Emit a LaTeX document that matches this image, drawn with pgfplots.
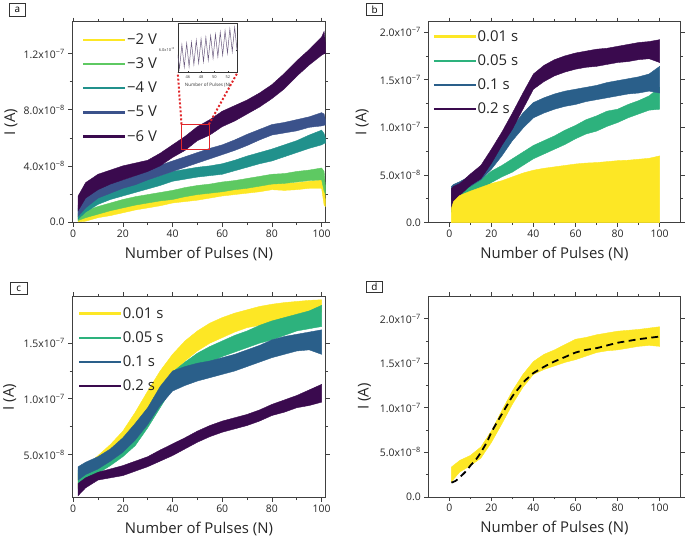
\documentclass[border=0pt]{standalone}
\usepackage{fontspec}
\setmainfont{Open Sans}
\usepackage{pgfplots}
\pgfplotsset{compat=1.18}
\usepgfplotslibrary{fillbetween}
\definecolor{vyel}{HTML}{FDE725}
\definecolor{vgrA}{HTML}{5EC962}
\definecolor{vteal}{HTML}{21918C}
\definecolor{vnavy}{HTML}{3B528B}
\definecolor{vpur}{HTML}{3A0A4E}
\definecolor{vgr}{HTML}{2DB27D}
\definecolor{vblue}{HTML}{2A5F8A}
\definecolor{axgray}{HTML}{404040}
\definecolor{redbox}{HTML}{E0262A}
\definecolor{insetline}{HTML}{6A5A7E}

\newcommand{\band}[4]{%
  \addplot[draw=none, name path=#1U, forget plot] coordinates {#3};
  \addplot[draw=none, name path=#1L, forget plot] coordinates {#4};
  \addplot[fill=#2, draw=#2, line width=0.4pt, forget plot] fill between[of=#1U and #1L];
}

\pgfplotsset{
  panel/.style={
    scale only axis,
    axis line style={axgray, line width=0.8pt},
    tick style={axgray, line width=0.7pt},
    tick align=outside,
    major tick length=4pt,
    minor tick length=2.5pt,
    minor tick num=1,
    xtick={0,20,40,60,80,100},
    /pgf/number format/assume math mode=true,
    tick label style={font=\fontsize{10.5}{12}\selectfont, text=black!85},
    xlabel={Number of Pulses (N)},
    ylabel={I (A)},
    every axis x label/.style={at={(axis description cs:0.5,-0.157)}, anchor=center, font=\fontsize{15}{17}\selectfont, text=black!85},
    legend style={draw=none, fill=none, font=\fontsize{15}{17}\selectfont, row sep=10pt, inner xsep=0pt, inner ysep=0pt, nodes={inner sep=1pt, text=black!85}},
    legend image code/.code={\draw[##1] (0pt,0pt) -- (42pt,0pt);},
    legend cell align=left,
  },
  ylab/.style={every axis y label/.style={at={(axis description cs:#1,0.5)}, rotate=90, anchor=center, font=\fontsize{15}{17}\selectfont, text=black!85}},
}

\begin{document}
\begin{tikzpicture}
\path (0pt,0pt) rectangle (685pt,541pt);

% ---------- panel a ----------
\begin{axis}[panel, ylab=-0.242,
  at={(71.7pt,317pt)}, anchor=south west, width=255pt, height=202.3pt,
  xmin=-0.4, xmax=101.6, ymin=-0.05, ymax=14.3,
  ytick={0,4,8,12},
  yticklabels={0.0, 4.0x10\textsuperscript{−8}, 8.0x10\textsuperscript{−8}, 1.2x10\textsuperscript{−7}},
  legend style={at={(axis description cs:0.039,0.945)}, anchor=north west},
]
\band{aY}{vyel}{(2,0.4) (5,0.5) (10,0.7) (15,0.95) (20,1.15) (25,1.35) (30,1.5) (35,1.65) (40,1.85) (45,1.95) (50,2.05) (55,2.15) (60,2.3) (65,2.4) (70,2.55) (75,2.65) (80,2.8) (85,2.75) (90,2.8) (95,2.9) (100,3.0) (101,2.9) (101.5,1.6)}
{(2,0.0) (5,0.05) (10,0.3) (15,0.45) (20,0.65) (25,0.85) (30,1.0) (35,1.15) (40,1.35) (45,1.45) (50,1.55) (55,1.7) (60,1.85) (65,1.95) (70,2.05) (75,2.15) (80,2.3) (85,2.25) (90,2.3) (95,2.4) (100,2.4) (101,1.2) (101.5,1.1)}
\band{aG}{vgrA}{(2,0.6) (5,0.8) (10,1.1) (15,1.35) (20,1.6) (25,1.8) (30,1.95) (35,2.1) (40,2.25) (45,2.45) (50,2.6) (55,2.7) (60,2.85) (65,2.95) (70,3.1) (75,3.25) (80,3.4) (85,3.45) (90,3.6) (95,3.7) (100,3.85) (101,3.6) (101.5,2.6)}
{(2,0.1) (5,0.3) (10,0.55) (15,0.8) (20,1.0) (25,1.2) (30,1.35) (35,1.5) (40,1.6) (45,1.8) (50,1.95) (55,2.05) (60,2.15) (65,2.3) (70,2.4) (75,2.55) (80,2.7) (85,2.75) (90,2.85) (95,2.95) (100,3.0) (101,2.2) (101.5,2.0)}
\band{aT}{vteal}{(2,1.0) (5,1.45) (10,1.95) (15,2.3) (20,2.55) (25,2.8) (30,3.05) (35,3.3) (40,3.6) (45,3.75) (50,3.9) (55,4.0) (60,4.15) (65,4.4) (70,4.7) (75,4.95) (80,5.2) (85,5.5) (90,5.8) (95,6.2) (100,6.55) (101,6.3) (101.5,6.0)}
{(2,0.2) (5,0.7) (10,1.25) (15,1.6) (20,1.85) (25,2.1) (30,2.35) (35,2.6) (40,2.9) (45,3.05) (50,3.2) (55,3.3) (60,3.4) (65,3.65) (70,3.9) (75,4.15) (80,4.35) (85,4.65) (90,4.95) (95,5.25) (100,5.5) (101,5.6) (101.5,5.6)}
\band{aN}{vnavy}{(2,1.2) (5,1.8) (10,2.4) (15,2.75) (20,3.0) (25,3.3) (30,3.7) (35,4.05) (40,4.35) (45,4.65) (50,4.95) (55,5.25) (60,5.5) (65,5.85) (70,6.25) (75,6.6) (80,6.95) (85,7.1) (90,7.3) (95,7.5) (100,7.8) (101,7.7) (101.5,7.3)}
{(2,0.4) (5,1.0) (10,1.7) (15,2.05) (20,2.4) (25,2.65) (30,3.0) (35,3.3) (40,3.6) (45,3.9) (50,4.2) (55,4.5) (60,4.8) (65,5.1) (70,5.45) (75,5.85) (80,6.2) (85,6.35) (90,6.5) (95,6.75) (100,6.85) (101,6.9) (101.5,6.9)}
\band{aP}{vpur}{(2,1.85) (5,2.8) (10,3.4) (15,3.7) (20,4.0) (25,4.2) (30,4.4) (35,4.9) (40,5.5) (45,6.1) (50,6.8) (55,7.3) (60,7.9) (65,8.3) (70,8.7) (75,9.2) (80,9.8) (85,10.6) (90,11.5) (95,12.3) (100,13.2) (101,13.6) (101.5,12.8)}
{(2,0.8) (5,1.7) (10,2.3) (15,2.7) (20,3.0) (25,3.3) (30,3.6) (35,4.0) (40,4.6) (45,5.1) (50,5.8) (55,6.2) (60,6.8) (65,7.2) (70,7.7) (75,8.2) (80,8.8) (85,9.5) (90,10.4) (95,11.2) (100,11.9) (101,12.0) (101.5,12.0)}
\addlegendimage{line width=2.2pt, vyel}\addlegendentry{−2 V}
\addlegendimage{line width=2.2pt, vgrA}\addlegendentry{−3 V}
\addlegendimage{line width=2.2pt, vteal}\addlegendentry{−4 V}
\addlegendimage{line width=2.2pt, vnavy}\addlegendentry{−5 V}
\addlegendimage{line width=2.2pt, vpur}\addlegendentry{−6 V}
\draw[redbox, line width=0.7pt] (axis cs:43.6,5.19) rectangle (axis cs:54.65,6.97);
\draw[redbox, line width=2pt, dash pattern=on 2pt off 2pt] (axis cs:43.6,6.97) -- (axis cs:42.1,10.65);
\draw[redbox, line width=2pt, dash pattern=on 2pt off 2pt] (axis cs:54.65,6.97) -- (axis cs:66.1,10.65);
\end{axis}

% inset
\begin{axis}[
  at={(178pt,468pt)}, anchor=south west, width=60pt, height=50pt, scale only axis,
  xmin=44.5, xmax=53.45, ymin=5.54, ymax=6.54,
  axis line style={black!80, line width=0.4pt},
  tick style={black!80, line width=0.3pt},
  major tick length=1.5pt, tick align=inside,
  xtick={46,48,50,52}, ytick={6.0},
  yticklabels={6.0x10\textsuperscript{−8}},
  /pgf/number format/assume math mode=true,
  tick label style={font=\fontsize{4}{5}\selectfont, text=black!80},
  xticklabel style={yshift=0.5pt},
  yticklabel style={xshift=0.5pt},
  xlabel={Number of Pulses (N)},
  every axis x label/.style={at={(axis description cs:0.5,-0.26)}, anchor=center, font=\fontsize{4.6}{5}\selectfont, text=black!80},
  axis background/.style={fill=white},
]
\addplot[insetline, line width=0.5pt] coordinates {(44.5,5.9) (44.75,5.62) (45.11,6.10) (45.47,5.65) (45.83,6.13) (46.19,5.66) (46.55,6.15) (46.91,5.70) (47.27,6.19) (47.63,5.73) (47.99,6.22) (48.35,5.76) (48.71,6.25) (49.07,5.79) (49.43,6.28) (49.79,5.83) (50.15,6.31) (50.51,5.86) (50.87,6.35) (51.23,5.89) (51.59,6.38) (51.95,5.93) (52.31,6.42) (52.67,5.96) (53.03,6.45) (53.39,5.99) (53.45,6.02)};
\node[font=\fontsize{4}{5}\selectfont, text=black!80, anchor=center] at (axis description cs:-0.18,0.84) {I (A)};
\end{axis}

% ---------- panel b ----------
\begin{axis}[panel, ylab=-0.262,
  at={(430pt,317pt)}, anchor=south west, width=254pt, height=202.3pt,
  xmin=-10, xmax=110, ymin=0, ymax=21.1,
  ytick={0,5,10,15,20},
  yticklabels={0.0, 5.0x10\textsuperscript{−8}, 1.0x10\textsuperscript{−7}, 1.5x10\textsuperscript{−7}, 2.0x10\textsuperscript{−7}},
  legend style={at={(axis description cs:0.017,0.962)}, anchor=north west},
]
\addplot[fill=vyel, draw=vyel, line width=0.4pt, forget plot] coordinates {(1,1.5) (2,2.2) (5,2.85) (10,3.3) (15,3.7) (20,4.1) (25,4.4) (30,4.8) (35,5.2) (40,5.5) (45,5.7) (50,5.85) (55,6.0) (60,6.15) (65,6.25) (70,6.3) (75,6.4) (80,6.5) (85,6.55) (90,6.65) (95,6.75) (100,7.0)} \closedcycle;
\band{bG}{vgr}{(1,2.5) (2,2.8) (5,3.2) (10,3.9) (15,4.5) (20,5.4) (25,6.0) (30,6.7) (35,7.4) (40,8.1) (45,8.6) (50,9.1) (55,9.7) (60,10.2) (65,10.8) (70,11.2) (75,11.7) (80,11.9) (85,12.4) (90,12.8) (95,13.3) (100,14.2)}
{(1,1.1) (2,1.4) (5,2.0) (10,2.8) (15,3.4) (20,4.2) (25,4.8) (30,5.3) (35,6.0) (40,6.7) (45,7.2) (50,7.7) (55,8.2) (60,8.8) (65,9.3) (70,9.6) (75,10.1) (80,10.5) (85,11.0) (90,11.4) (95,11.8) (100,11.9)}
\band{bB}{vblue}{(1,3.8) (2,4.0) (5,4.3) (10,4.9) (15,5.6) (20,6.8) (25,8.3) (30,10.0) (35,11.5) (40,12.6) (45,13.1) (50,13.5) (55,13.8) (60,14.0) (65,14.2) (70,14.4) (75,14.7) (80,14.9) (85,15.1) (90,15.3) (95,15.6) (100,16.4)}
{(1,2.4) (2,2.8) (5,3.2) (10,3.8) (15,4.5) (20,5.6) (25,7.0) (30,8.6) (35,9.9) (40,11.0) (45,11.5) (50,11.9) (55,12.2) (60,12.4) (65,12.7) (70,12.9) (75,13.1) (80,13.3) (85,13.5) (90,13.6) (95,13.8) (100,13.6)}
\band{bP}{vpur}{(1,3.55) (2,3.8) (5,4.1) (10,5.1) (15,6.0) (20,7.7) (25,9.5) (30,11.5) (35,13.6) (40,15.6) (45,16.5) (50,17.1) (55,17.5) (60,17.8) (65,18.0) (70,18.2) (75,18.3) (80,18.5) (85,18.7) (90,18.9) (95,19.0) (100,19.2)}
{(1,1.4) (2,2.0) (5,2.85) (10,3.9) (15,4.6) (20,6.2) (25,8.1) (30,9.8) (35,11.9) (40,14.0) (45,14.8) (50,15.4) (55,15.8) (60,16.1) (65,16.3) (70,16.4) (75,16.6) (80,16.8) (85,16.9) (90,17.1) (95,17.2) (100,16.8)}
\addlegendimage{line width=2.2pt, vyel}\addlegendentry{0.01 s}
\addlegendimage{line width=2.2pt, vgr}\addlegendentry{0.05 s}
\addlegendimage{line width=2.2pt, vblue}\addlegendentry{0.1 s}
\addlegendimage{line width=2.2pt, vpur}\addlegendentry{0.2 s}
\end{axis}

% ---------- panel c ----------
\begin{axis}[panel, ylab=-0.246,
  at={(71.7pt,40.3pt)}, anchor=south west, width=255pt, height=202.4pt,
  xmin=-0.4, xmax=101.6, ymin=1.125, ymax=19.2,
  ytick={5,10,15},
  yticklabels={5.0x10\textsuperscript{−8}, 1.0x10\textsuperscript{−7}, 1.5x10\textsuperscript{−7}},
  legend style={at={(axis description cs:0.022,0.952)}, anchor=north west},
]
\band{cY}{vyel}{(2,3.3) (5,3.9) (10,4.9) (15,5.9) (20,7.1) (25,8.8) (30,10.7) (35,12.5) (40,14.0) (45,15.2) (50,16.1) (55,16.8) (60,17.3) (65,17.7) (70,18.0) (75,18.3) (80,18.5) (85,18.65) (90,18.75) (95,18.85) (100,18.9)}
{(2,2.0) (5,2.7) (10,3.6) (15,4.5) (20,5.5) (25,6.9) (30,8.9) (35,10.6) (40,12.2) (45,13.4) (50,14.3) (55,15.0) (60,15.5) (65,16.0) (70,16.4) (75,16.6) (80,16.8) (85,17.0) (90,17.3) (95,17.6) (100,17.8)}
\band{cG}{vgr}{(2,3.6) (5,4.0) (10,4.5) (15,5.3) (20,6.25) (25,7.4) (30,8.9) (35,10.7) (40,12.4) (45,13.3) (50,14.1) (55,14.7) (60,15.2) (65,15.7) (70,16.1) (75,16.6) (80,17.0) (85,17.3) (90,17.6) (95,17.9) (100,18.4)}
{(2,1.9) (5,2.5) (10,3.3) (15,4.0) (20,4.8) (25,5.8) (30,7.4) (35,9.2) (40,11.0) (45,12.0) (50,12.8) (55,13.3) (60,13.8) (65,14.2) (70,14.6) (75,15.0) (80,15.3) (85,15.7) (90,16.1) (95,16.3) (100,16.5)}
\band{cB}{vblue}{(2,3.9) (5,4.3) (10,4.8) (15,5.5) (20,6.5) (25,7.8) (30,9.2) (35,11.1) (40,12.5) (45,12.9) (50,13.2) (55,13.4) (60,13.7) (65,14.0) (70,14.4) (75,14.8) (80,15.3) (85,15.6) (90,15.8) (95,16.0) (100,16.2)}
{(2,2.7) (5,3.2) (10,3.7) (15,4.4) (20,5.2) (25,6.3) (30,7.7) (35,9.4) (40,10.7) (45,11.2) (50,11.6) (55,11.9) (60,12.2) (65,12.5) (70,12.9) (75,13.3) (80,13.7) (85,14.0) (90,14.3) (95,14.4) (100,14.0)}
\band{cP}{vpur}{(2,2.4) (5,2.9) (10,3.4) (15,3.7) (20,4.0) (25,4.4) (30,4.8) (35,5.4) (40,5.95) (45,6.5) (50,7.1) (55,7.6) (60,8.0) (65,8.3) (70,8.6) (75,9.0) (80,9.5) (85,9.9) (90,10.3) (95,10.8) (100,11.3)}
{(2,1.3) (5,2.0) (10,2.7) (15,2.9) (20,3.1) (25,3.5) (30,3.9) (35,4.4) (40,4.9) (45,5.5) (50,6.1) (55,6.6) (60,7.0) (65,7.3) (70,7.6) (75,8.0) (80,8.5) (85,8.8) (90,9.2) (95,9.4) (100,9.7)}
\addlegendimage{line width=2.2pt, vyel}\addlegendentry{0.01 s}
\addlegendimage{line width=2.2pt, vgr}\addlegendentry{0.05 s}
\addlegendimage{line width=2.2pt, vblue}\addlegendentry{0.1 s}
\addlegendimage{line width=2.2pt, vpur}\addlegendentry{0.2 s}
\end{axis}

% ---------- panel d ----------
\begin{axis}[panel, ylab=-0.253,
  at={(430pt,41pt)}, anchor=south west, width=254pt, height=201.7pt,
  xmin=-10, xmax=110, ymin=0, ymax=22.5,
  ytick={0,5,10,15,20},
  yticklabels={0.0, 5.0x10\textsuperscript{−8}, 1.0x10\textsuperscript{−7}, 1.5x10\textsuperscript{−7}, 2.0x10\textsuperscript{−7}},
]
\band{dY}{vyel}{(1,3.35) (5,4.1) (10,4.65) (15,5.6) (20,7.4) (25,9.7) (30,11.9) (35,13.75) (40,15.2) (45,16.0) (50,16.5) (55,17.1) (60,17.7) (65,17.9) (70,18.2) (75,18.4) (80,18.6) (85,18.7) (90,18.8) (95,18.95) (100,19.1)}
{(1,1.7) (5,2.8) (10,3.5) (15,4.35) (20,6.1) (25,8.2) (30,10.4) (35,12.3) (40,13.75) (45,14.3) (50,14.7) (55,15.1) (60,15.4) (65,15.8) (70,16.2) (75,16.4) (80,16.5) (85,16.7) (90,16.9) (95,17.0) (100,16.9)}
\addplot[black, line width=1.8pt, dash pattern=on 7pt off 4.5pt, smooth] coordinates {(1,1.6) (3,1.8) (5,2.2) (8,2.9) (10,3.5) (13,4.3) (15,5.0) (18,6.2) (20,7.25) (23,8.5) (25,9.3) (28,10.5) (30,11.3) (33,12.2) (35,12.8) (38,13.5) (40,13.9) (45,14.6) (50,15.2) (55,15.7) (60,16.2) (65,16.5) (70,16.7) (75,17.0) (80,17.3) (85,17.5) (90,17.7) (95,17.85) (100,18.0)};
\end{axis}

% panel letters
\node[draw=black!80, line width=0.6pt, minimum width=17pt, minimum height=12.5pt, inner sep=0pt, font=\fontsize{10}{12}\selectfont] at (16.5pt,531pt) {a};
\node[draw=black!80, line width=0.6pt, minimum width=16pt, minimum height=11.5pt, inner sep=0pt, font=\fontsize{10}{12}\selectfont] at (376pt,531.5pt) {b};
\node[draw=black!80, line width=0.6pt, minimum width=17pt, minimum height=12.5pt, inner sep=0pt, font=\fontsize{10}{12}\selectfont] at (18pt,250.7pt) {c};
\node[draw=black!80, line width=0.6pt, minimum width=16pt, minimum height=11.5pt, inner sep=0pt, font=\fontsize{10}{12}\selectfont] at (375.8pt,252.3pt) {d};
\end{tikzpicture}
\end{document}
